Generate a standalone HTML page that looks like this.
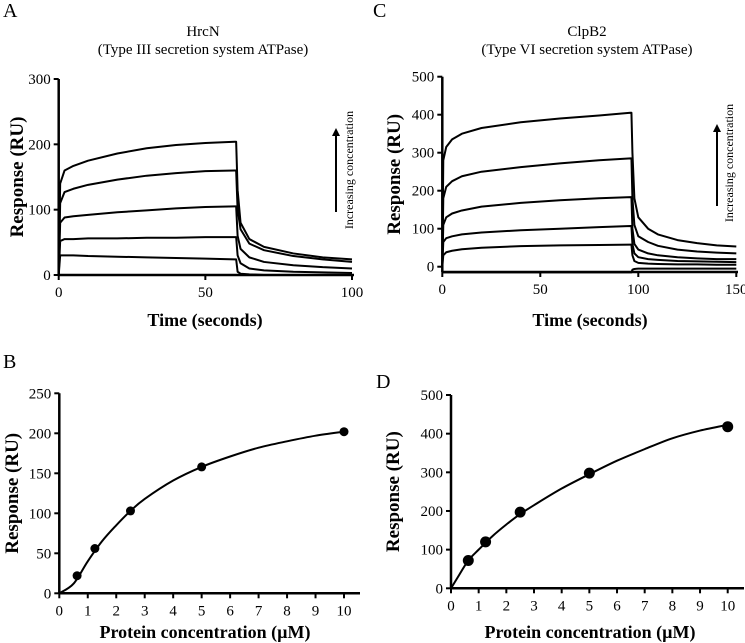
<!DOCTYPE html>
<html><head><meta charset="utf-8">
<style>
body{margin:0;background:#fff;}
svg{display:block;font-family:"Liberation Serif",serif;}
</style></head>
<body>
<svg id="fig" width="745" height="643" viewBox="0 0 745 643">
<g id="panelA"></g>
<g id="panelC"></g>
<g id="panelB"></g>
<g id="panelD"></g>
</svg>
<script>
// ---------- Panel A data ----------
const timesA = [0,0.5,2,5,10,20,30,40,50,60,60.5,61,62,65,70,80,90,100];
const seriesA1 = [0,140,160,167,175,186,194,199,202,204,204,130,80,55,43,33,27,24];
const seriesA2 = [0,110,127,132,138,146,152,156,159,160,160,100,70,48,38,29,24,20];
const seriesA3 = [0,80,88,90,92,96,99,102,104,105,105,60,40,27,20,15,12,10];
const seriesA4 = [0,52,55,55,56,56,57,57,58,58,58,30,18,10,7,5,4,3];
const seriesA5 = [0,30,30,30,29,28,27,26,25,24,24,5,2,1,0,0,0,0];
const seriesA6 = [0,0,0,0,0,0,0,0,0,0,0,0,0,0,0,0,0,0];
const ticksAx = [0,50,100];
const ticksAy = [0,100,200,300];
// ---------- Panel C data ----------
const timesC = [0,0.5,2,5,10,20,40,60,80,96,96.5,97,98,100,105,110,120,130,140,150];
const seriesC1 = [0,280,315,335,350,365,380,390,398,405,405,300,180,130,100,85,70,62,56,53];
const seriesC2 = [0,180,210,225,238,250,262,272,280,285,285,180,110,80,65,55,45,40,37,35];
const seriesC3 = [0,110,130,140,148,158,168,175,180,183,183,100,60,45,35,30,25,22,20,20];
const seriesC4 = [0,65,75,80,85,90,96,100,104,107,107,60,35,25,20,18,15,14,13,12];
const seriesC5 = [0,30,38,42,46,50,54,56,57,58,58,30,15,10,8,7,6,6,5,5];
const seriesC6 = [-15,-15,-15,-15,-15,-15,-15,-15,-15,-15,-15,-8,-6,-5,-5,-5,-5,-5,-5,-5];
const ticksCx = [0,50,100,150];
const ticksCy = [0,100,200,300,400,500];
// ---------- Panel B data ----------
const concB = [0.625,1.25,2.5,5,10];
const respB = [22,56,103,158,202];
const fitBx = [0,0.5,1,1.5,2,2.5,3,4,5,6,7,8,9,10];
const fitBy = [0,12,40,65,85,103,118,141,158,171,182,190,197,202];
const ticksBy = [0,50,100,150,200,250];
// ---------- Panel D data ----------
const concD = [0.625,1.25,2.5,5,10];
const respD = [72,120,197,298,418];
const fitDx = [0,0.3,0.625,1,1.5,2,2.5,3,4,5,6,7,8,9,10];
const fitDy = [0,35,72,100,135,165,192,215,258,295,330,360,388,408,423];
const ticksDy = [0,100,200,300,400,500];
const ticksConc = [0,1,2,3,4,5,6,7,8,9,10];

const NS="http://www.w3.org/2000/svg";
function mk(parent,tag,attrs,text){const e=document.createElementNS(NS,tag);for(const k in attrs)e.setAttribute(k,attrs[k]);if(text!==undefined)e.textContent=text;parent.appendChild(e);return e;}
function lin(d0,d1,r0,r1){return v=>r0+(v-d0)/(d1-d0)*(r1-r0);}
function smooth(pts){let d="M"+pts[0][0]+","+pts[0][1];for(let i=0;i<pts.length-1;i++){const p0=pts[Math.max(0,i-1)],p1=pts[i],p2=pts[i+1],p3=pts[Math.min(pts.length-1,i+2)];const c1=[p1[0]+(p2[0]-p0[0])/6,p1[1]+(p2[1]-p0[1])/6],c2=[p2[0]-(p3[0]-p1[0])/6,p2[1]-(p3[1]-p1[1])/6];d+=` C${c1[0]},${c1[1]} ${c2[0]},${c2[1]} ${p2[0]},${p2[1]}`;}return d;}

function axes(g,o){
  let e=mk(g,"line",{x1:o.x0,y1:o.yTop,x2:o.x0,y2:o.yBot,stroke:"#000","stroke-width":2.5});
  
  
  e=mk(g,"line",{x1:o.x0,y1:o.yBot,x2:o.xEnd,y2:o.yBot,stroke:"#000","stroke-width":2.5});
  
  
  o.yt.forEach(v=>{const y=o.sy(v);
    mk(g,"line",{x1:o.x0-5,y1:y,x2:o.x0,y2:y,stroke:"#000","stroke-width":2});
    const t=mk(g,"text",{x:o.x0-8,y:y+5,"text-anchor":"end","font-size":15},v);
    
    });
  o.xt.forEach(v=>{const x=o.sx(v);
    mk(g,"line",{x1:x,y1:o.yBot,x2:x,y2:o.yBot+5,stroke:"#000","stroke-width":2});
    const t=mk(g,"text",{x:x,y:o.yBot+22,"text-anchor":"middle","font-size":15},v);
    
    });
  let t=mk(g,"text",{x:o.ytx,y:(o.yTop+o.yBot)/2,"text-anchor":"middle","font-size":19,"font-weight":"bold",transform:`rotate(-90 ${o.ytx} ${(o.yTop+o.yBot)/2})`},"Response (RU)");
  
  
  t=mk(g,"text",{x:o.xtx,y:o.xty,"text-anchor":"middle","font-size":18,"font-weight":"bold"},o.xtitle);
  
  
}
function header(g,letter,lx,ly,title,sub,cx){
  let t=mk(g,"text",{x:lx,y:ly,"font-size":20},letter);
  
  
  if(title){
    t=mk(g,"text",{x:cx,y:36,"text-anchor":"middle","font-size":15},title);
    
    
    t=mk(g,"text",{x:cx,y:54,"text-anchor":"middle","font-size":15},sub);
    
    
  }
}
function arrow(g,x,yTop,yBot,labelX,labelY){
  let e=mk(g,"line",{x1:x,y1:yBot,x2:x,y2:yTop+6,stroke:"#000","stroke-width":2});
  
  
  mk(g,"polygon",{points:`${x-4},${yTop+8} ${x+4},${yTop+8} ${x},${yTop}`,fill:"#000"});
  const t=mk(g,"text",{x:labelX,y:labelY,"text-anchor":"middle","font-size":12,transform:`rotate(-90 ${labelX} ${labelY})`},"Increasing concentration");
  
  
}
function polyline(g,xs,ys,sx,sy,name){
  const pts=xs.map((v,i)=>sx(v)+","+sy(ys[i])).join(" ");
  const e=mk(g,"polyline",{points:pts,fill:"none",stroke:"#000","stroke-width":2,"stroke-linejoin":"round"});
  
  
}

// Panel A
(function(){
  const g=document.getElementById("panelA");
  const sx=lin(0,100,58.7,352), sy=lin(0,300,275,79);
  header(g,"A",3,17,"HrcN","(Type III secretion system ATPase)",203);
  axes(g,{x0:58.7,yTop:79,yBot:275,xEnd:354,sx,sy,xt:ticksAx,yt:ticksAy,ytx:23,xtx:205,xty:326,xtitle:"Time (seconds)"});
  [seriesA1,seriesA2,seriesA3,seriesA4,seriesA5,seriesA6].forEach((s,i)=>polyline(g,timesA,s,sx,sy,"sensorgram-a-"+(i+1)));
  arrow(g,336,128,212,353,170);
})();
// Panel C
(function(){
  const g=document.getElementById("panelC");
  const sx=lin(0,150,442.3,736.3), sy=lin(0,500,266.7,76.7);
  header(g,"C",373,17,"ClpB2","(Type VI secretion system ATPase)",587);
  axes(g,{x0:442.3,yTop:76.7,yBot:272,xEnd:738,sx,sy,xt:ticksCx,yt:ticksCy,ytx:400,xtx:590,xty:326,xtitle:"Time (seconds)"});
  [seriesC1,seriesC2,seriesC3,seriesC4,seriesC5,seriesC6].forEach((s,i)=>polyline(g,timesC,s,sx,sy,"sensorgram-c-"+(i+1)));
  arrow(g,717,124,206,733,163);
})();
// Panel B
(function(){
  const g=document.getElementById("panelB");
  const sx=lin(0,10,59.3,344), sy=lin(0,250,593.3,393.3);
  header(g,"B",3,368);
  axes(g,{x0:59.3,yTop:393.3,yBot:593.3,xEnd:360,sx,sy,xt:ticksConc,yt:ticksBy,ytx:18,xtx:205,xty:638,xtitle:"Protein concentration (\u00b5M)"});
  let e=mk(g,"path",{d:smooth(fitBx.map((v,i)=>[sx(v),sy(fitBy[i])])),fill:"none",stroke:"#000","stroke-width":2});
  
  
  concB.forEach((c,i)=>{const d=mk(g,"circle",{cx:sx(c),cy:sy(respB[i]),r:4.5,fill:"#000"});
    
    });
})();
// Panel D
(function(){
  const g=document.getElementById("panelD");
  const sx=lin(0,10,451,727.7), sy=lin(0,500,588.3,395);
  header(g,"D",376,388);
  axes(g,{x0:451,yTop:395,yBot:588.3,xEnd:744,sx,sy,xt:ticksConc,yt:ticksDy,ytx:399,xtx:590,xty:638,xtitle:"Protein concentration (\u00b5M)"});
  let e=mk(g,"path",{d:smooth(fitDx.map((v,i)=>[sx(v),sy(fitDy[i])])),fill:"none",stroke:"#000","stroke-width":2});
  
  
  concD.forEach((c,i)=>{const d=mk(g,"circle",{cx:sx(c),cy:sy(respD[i]),r:5.5,fill:"#000"});
    
    });
})();
</script>
</body></html>
